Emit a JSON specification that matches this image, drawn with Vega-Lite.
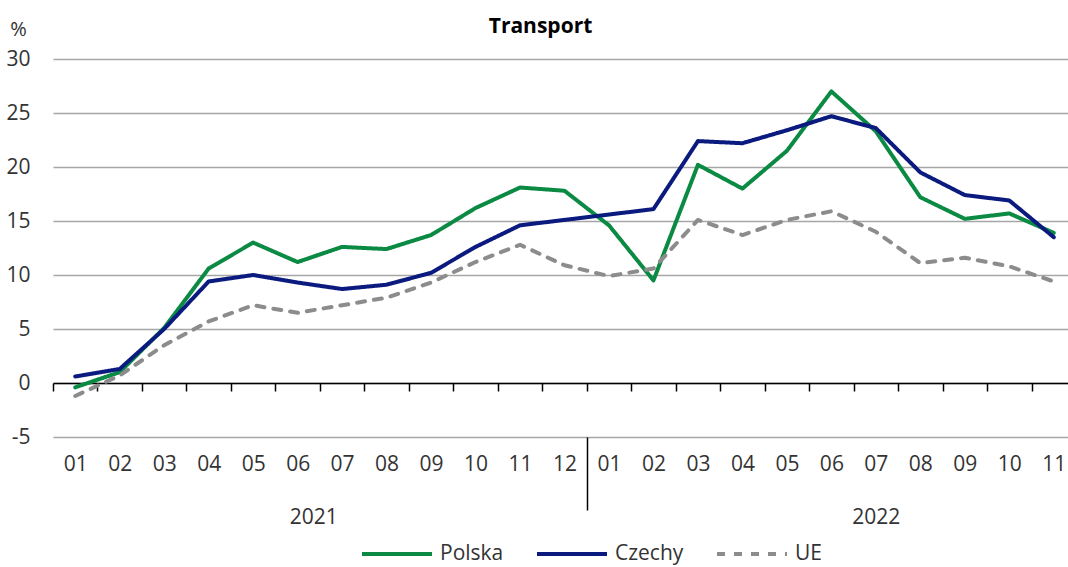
{
  "$schema": "https://vega.github.io/schema/vega-lite/v6.json",
  "autosize": "none",
  "width": 1015,
  "height": 378,
  "padding": {"left": 53, "top": 59, "right": 0, "bottom": 130},
  "background": "white",
  "config": {
    "font": "Open Sans",
    "view": {"stroke": null},
    "axis": {"labelFont": "Open Sans", "labelColor": "#333333", "labelFontSize": 21},
    "legend": {"labelFont": "Open Sans", "labelColor": "#333333", "labelFontSize": 21}
  },
  "title": {"text": "Transport", "font": "Open Sans", "fontSize": 21, "fontWeight": "bold", "color": "#000000", "anchor": "middle", "dx": -20, "offset": -18},
  "datasets": {
    "series": [
      {"t": 0, "series": "Polska", "value": -0.4}, {"t": 1, "series": "Polska", "value": 1.0}, {"t": 2, "series": "Polska", "value": 5.1}, {"t": 3, "series": "Polska", "value": 10.6}, {"t": 4, "series": "Polska", "value": 13.0}, {"t": 5, "series": "Polska", "value": 11.2}, {"t": 6, "series": "Polska", "value": 12.6}, {"t": 7, "series": "Polska", "value": 12.4}, {"t": 8, "series": "Polska", "value": 13.7}, {"t": 9, "series": "Polska", "value": 16.2}, {"t": 10, "series": "Polska", "value": 18.1}, {"t": 11, "series": "Polska", "value": 17.8}, {"t": 12, "series": "Polska", "value": 14.6}, {"t": 13, "series": "Polska", "value": 9.5}, {"t": 14, "series": "Polska", "value": 20.2}, {"t": 15, "series": "Polska", "value": 18.0}, {"t": 16, "series": "Polska", "value": 21.5}, {"t": 17, "series": "Polska", "value": 27.0}, {"t": 18, "series": "Polska", "value": 23.3}, {"t": 19, "series": "Polska", "value": 17.2}, {"t": 20, "series": "Polska", "value": 15.2}, {"t": 21, "series": "Polska", "value": 15.7}, {"t": 22, "series": "Polska", "value": 13.9},
      {"t": 0, "series": "Czechy", "value": 0.6}, {"t": 1, "series": "Czechy", "value": 1.3}, {"t": 2, "series": "Czechy", "value": 5.0}, {"t": 3, "series": "Czechy", "value": 9.4}, {"t": 4, "series": "Czechy", "value": 10.0}, {"t": 5, "series": "Czechy", "value": 9.3}, {"t": 6, "series": "Czechy", "value": 8.7}, {"t": 7, "series": "Czechy", "value": 9.1}, {"t": 8, "series": "Czechy", "value": 10.2}, {"t": 9, "series": "Czechy", "value": 12.6}, {"t": 10, "series": "Czechy", "value": 14.6}, {"t": 11, "series": "Czechy", "value": 15.1}, {"t": 12, "series": "Czechy", "value": 15.6}, {"t": 13, "series": "Czechy", "value": 16.1}, {"t": 14, "series": "Czechy", "value": 22.4}, {"t": 15, "series": "Czechy", "value": 22.2}, {"t": 16, "series": "Czechy", "value": 23.4}, {"t": 17, "series": "Czechy", "value": 24.7}, {"t": 18, "series": "Czechy", "value": 23.6}, {"t": 19, "series": "Czechy", "value": 19.5}, {"t": 20, "series": "Czechy", "value": 17.4}, {"t": 21, "series": "Czechy", "value": 16.9}, {"t": 22, "series": "Czechy", "value": 13.5},
      {"t": 0, "series": "UE", "value": -1.2}, {"t": 1, "series": "UE", "value": 0.7}, {"t": 2, "series": "UE", "value": 3.5}, {"t": 3, "series": "UE", "value": 5.7}, {"t": 4, "series": "UE", "value": 7.2}, {"t": 5, "series": "UE", "value": 6.5}, {"t": 6, "series": "UE", "value": 7.2}, {"t": 7, "series": "UE", "value": 7.9}, {"t": 8, "series": "UE", "value": 9.3}, {"t": 9, "series": "UE", "value": 11.2}, {"t": 10, "series": "UE", "value": 12.8}, {"t": 11, "series": "UE", "value": 10.9}, {"t": 12, "series": "UE", "value": 9.9}, {"t": 13, "series": "UE", "value": 10.6}, {"t": 14, "series": "UE", "value": 15.1}, {"t": 15, "series": "UE", "value": 13.7}, {"t": 16, "series": "UE", "value": 15.1}, {"t": 17, "series": "UE", "value": 15.9}, {"t": 18, "series": "UE", "value": 14.0}, {"t": 19, "series": "UE", "value": 11.1}, {"t": 20, "series": "UE", "value": 11.6}, {"t": 21, "series": "UE", "value": 10.8}, {"t": 22, "series": "UE", "value": 9.4}
    ]
  },
  "data": {"name": "series"},
  "resolve": {"axis": {"x": "independent"}},
  "layer": [
    {
      "transform": [{"filter": "datum.series == 'Polska'"}],
      "mark": {"type": "line", "strokeWidth": 4, "strokeJoin": "round", "strokeCap": "round"},
      "encoding": {
        "x": {"field": "t", "type": "quantitative", "scale": {"domain": [-0.5, 22.32], "nice": false, "zero": false},
          "axis": {"orient": "bottom", "offset": -54, "values": [-0.5, 0.5, 1.5, 2.5, 3.5, 4.5, 5.5, 6.5, 7.5, 8.5, 9.5, 10.5, 11.5, 12.5, 13.5, 14.5, 15.5, 16.5, 17.5, 18.5, 19.5, 20.5, 21.5],
            "labels": false, "grid": false, "domainColor": "#000000", "domainWidth": 1.5, "tickColor": "#000000", "tickWidth": 1.5, "tickSize": 8, "title": null, "zindex": 0}},
        "y": {"field": "value", "type": "quantitative", "scale": {"domain": [-5, 30], "nice": false, "zero": false},
          "axis": {"values": [-5, 0, 5, 10, 15, 20, 25, 30], "labelExpr": "replace(datum.label, '\u2212', '-')", "grid": true, "gridColor": "#a6a6a6", "gridWidth": 1.5, "domain": false, "ticks": false, "labelPadding": 23, "title": "%", "titleAngle": 0, "titleX": -35, "titleY": -30, "titleAlign": "center", "titleBaseline": "middle", "titleFontWeight": "normal", "titleFontSize": 20, "titleColor": "#333333", "titleFont": "Open Sans", "zindex": 0}},
        "color": {"field": "series", "type": "nominal", "scale": {"domain": ["Polska", "Czechy", "UE"], "range": ["#0b8a44", "#0a1a7e", "#8c8c8c"]},
          "legend": {"orient": "none", "legendX": 307, "legendY": 458, "direction": "horizontal", "title": null, "symbolType": "stroke", "symbolSize": 4900, "symbolStrokeWidth": 4, "labelOffset": 6, "columnPadding": 25}},
        "strokeDash": {"field": "series", "type": "nominal", "scale": {"domain": ["Polska", "Czechy", "UE"], "range": [[1, 0], [1, 0], [8, 9]]},
          "legend": {"orient": "none", "legendX": 307, "legendY": 458, "direction": "horizontal", "title": null, "symbolType": "stroke", "symbolSize": 4900, "symbolStrokeWidth": 4, "labelOffset": 6, "columnPadding": 25}}
      }
    },
    {
      "transform": [{"filter": "datum.series == 'Czechy'"}],
      "mark": {"type": "line", "strokeWidth": 4, "strokeJoin": "round", "strokeCap": "round"},
      "encoding": {
        "x": {"field": "t", "type": "quantitative", "scale": {"domain": [-0.5, 22.32], "nice": false, "zero": false},
          "axis": {"orient": "bottom", "values": [0, 1, 2, 3, 4, 5, 6, 7, 8, 9, 10, 11, 12, 13, 14, 15, 16, 17, 18, 19, 20, 21, 22],
            "labelExpr": "((datum.value % 12) + 1 < 10 ? '0' : '') + ((datum.value % 12) + 1)",
            "domain": false, "ticks": false, "grid": false, "labelPadding": 16, "labelFlush": false, "labelOverlap": false, "title": null}},
        "y": {"field": "value", "type": "quantitative",
          "axis": {"values": [-5, 0, 5, 10, 15, 20, 25, 30], "labelExpr": "replace(datum.label, '\u2212', '-')", "grid": true, "gridColor": "#a6a6a6", "gridWidth": 1.5, "domain": false, "ticks": false, "labelPadding": 23, "title": "%", "titleAngle": 0, "titleX": -35, "titleY": -30, "titleAlign": "center", "titleBaseline": "middle", "titleFontWeight": "normal", "titleFontSize": 20, "titleColor": "#333333", "titleFont": "Open Sans", "zindex": 0}},
        "color": {"field": "series", "type": "nominal"},
        "strokeDash": {"field": "series", "type": "nominal"}
      }
    },
    {
      "transform": [{"filter": "datum.series == 'UE'"}],
      "mark": {"type": "line", "strokeWidth": 4, "strokeJoin": "round", "strokeCap": "round"},
      "encoding": {
        "x": {"field": "t", "type": "quantitative", "scale": {"domain": [-0.5, 22.32], "nice": false, "zero": false},
          "axis": {"orient": "bottom", "values": [5.35, 11.5, 18],
            "labelExpr": "datum.value == 5.35 ? '2021' : (datum.value == 18 ? '2022' : '')",
            "domain": false, "ticks": true, "tickSize": 73, "tickWidth": 1.5, "tickColor": "#000000",
            "tickOpacity": {"condition": {"test": "datum.value == 11.5", "value": 1}, "value": 0},
            "grid": false, "labelPadding": -4, "labelFlush": false, "labelOverlap": false, "title": null}},
        "y": {"field": "value", "type": "quantitative",
          "axis": {"values": [-5, 0, 5, 10, 15, 20, 25, 30], "labelExpr": "replace(datum.label, '\u2212', '-')", "grid": true, "gridColor": "#a6a6a6", "gridWidth": 1.5, "domain": false, "ticks": false, "labelPadding": 23, "title": "%", "titleAngle": 0, "titleX": -35, "titleY": -30, "titleAlign": "center", "titleBaseline": "middle", "titleFontWeight": "normal", "titleFontSize": 20, "titleColor": "#333333", "titleFont": "Open Sans", "zindex": 0}},
        "color": {"field": "series", "type": "nominal"},
        "strokeDash": {"field": "series", "type": "nominal"}
      }
    }
  ]
}
